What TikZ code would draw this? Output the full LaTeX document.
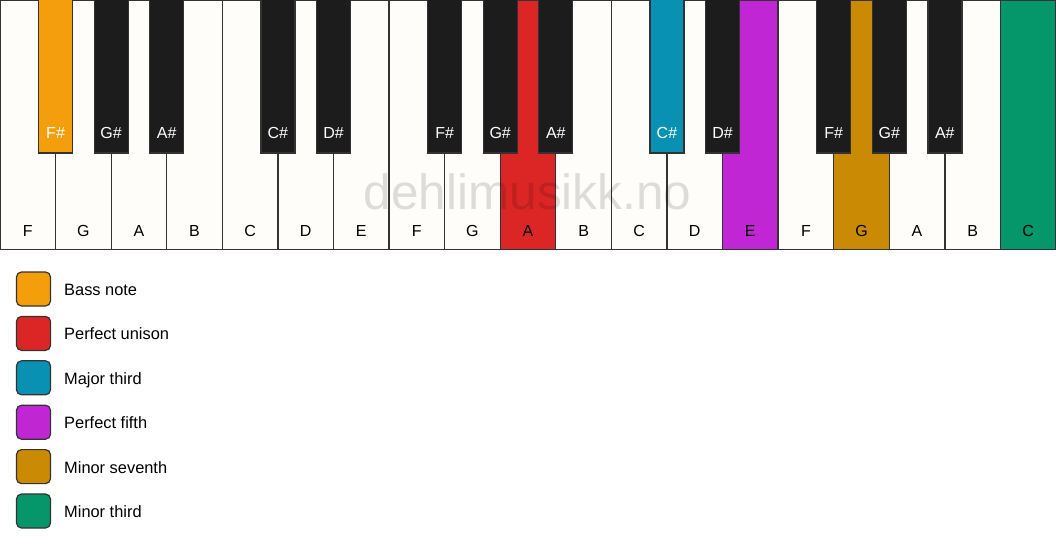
\documentclass[tikz,border=0pt]{standalone}
\usepackage{fontspec}
\setmainfont{Liberation Sans}
\definecolor{kOrange}{HTML}{F59E0B}
\definecolor{kRed}{HTML}{DC2626}
\definecolor{kBlue}{HTML}{0891B2}
\definecolor{kPurple}{HTML}{C026D3}
\definecolor{kGold}{HTML}{CA8A04}
\definecolor{kGreen}{HTML}{059669}
\definecolor{kBlack}{HTML}{1C1C1C}
\definecolor{kWhite}{HTML}{FFFDF9}
\definecolor{kLine}{HTML}{333333}
\begin{document}
\begin{tikzpicture}[x=1pt,y=-1pt,
  keyline/.style={draw=kLine, line width=1.3pt},
  wlabel/.style={anchor=base, font=\fontsize{16}{18}\selectfont, text=black, inner sep=0pt},
  blabel/.style={anchor=base, font=\fontsize{16}{18}\selectfont, text=white, inner sep=0pt},
  legbox/.style={draw=kLine, line width=1.2pt, rounded corners=5pt, minimum width=34pt, minimum height=34pt, inner sep=0pt},
  legtext/.style={anchor=base west, font=\fontsize{16.4}{18}\selectfont, text=black, inner sep=0pt},
  watermark/.style={anchor=base, font=\fontsize{49.5}{52}\selectfont, text=black, opacity=0.13, inner sep=0pt}]
\useasboundingbox (0,0) rectangle (1056,550);
\fill[white] (0,0) rectangle (1056,550);
\def\W{55.5789}
% white keys
\foreach \n/\c [count=\i from 0] in {F/kWhite,G/kWhite,A/kWhite,B/kWhite,C/kWhite,D/kWhite,E/kWhite,F/kWhite,G/kWhite,A/kRed,B/kWhite,C/kWhite,D/kWhite,E/kPurple,F/kWhite,G/kGold,A/kWhite,B/kWhite,C/kGreen}{
  \draw[keyline, fill=\c] ({\i*\W},0) rectangle ({(\i+1)*\W},249.5);
  \node[wlabel] (w\i) at ({(\i+0.5)*\W},236) {\n};
}
% black keys
\foreach \b/\n/\c in {1/F\#/kOrange,2/G\#/kBlack,3/A\#/kBlack,5/C\#/kBlack,6/D\#/kBlack,8/F\#/kBlack,9/G\#/kBlack,10/A\#/kBlack,12/C\#/kBlue,13/D\#/kBlack,15/F\#/kBlack,16/G\#/kBlack,17/A\#/kBlack}{
  \draw[keyline, fill=\c] ({\b*\W-17},-1) rectangle ({\b*\W+17},153);
  \node[blabel] (b\b) at ({\b*\W},138.5) {\n};
}
% watermark
\node[watermark] (wm) at (527.5,209.5) {dehlimusikk.no};
% legend
\foreach \c/\t [count=\k from 0] in {kOrange/Bass note,kRed/Perfect unison,kBlue/Major third,kPurple/Perfect fifth,kGold/Minor seventh,kGreen/Minor third}{
  \node[legbox, fill=\c] (lb\k) at (33.5,{289+\k*44.4}) {};
  \node[legtext] (lt\k) at (64,{295.5+\k*44.4}) {\t};
}
\end{tikzpicture}
\end{document}
